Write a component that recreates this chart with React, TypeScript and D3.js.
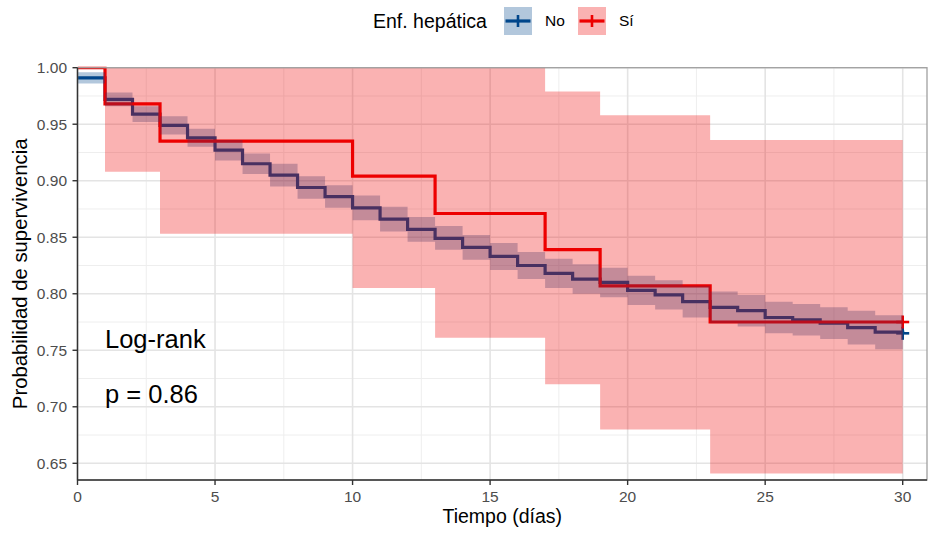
import React from "react";
import * as d3 from "d3";

// ---- Data ----
const noTimes = [0,1,2,3,4,5,6,7,8,9,10,11,12,13,14,15,16,17,18,19,20,21,22,23,24,25,26,27,28,29,30];
const noSurv = [0.991,0.972,0.959,0.949,0.938,0.927,0.915,0.905,0.894,0.886,0.876,0.866,0.857,0.849,0.841,0.833,0.825,0.818,0.813,0.810,0.803,0.799,0.793,0.788,0.785,0.779,0.777,0.774,0.770,0.766,0.765];
const noUpper = [0.996,0.978,0.966,0.957,0.946,0.936,0.924,0.915,0.904,0.896,0.887,0.877,0.868,0.860,0.852,0.845,0.837,0.831,0.826,0.823,0.816,0.812,0.807,0.802,0.799,0.793,0.791,0.788,0.785,0.781,0.781];
const noLower = [0.986,0.966,0.952,0.941,0.930,0.918,0.906,0.895,0.884,0.876,0.865,0.855,0.846,0.839,0.830,0.821,0.813,0.805,0.800,0.797,0.790,0.786,0.779,0.774,0.771,0.765,0.763,0.760,0.755,0.751,0.751];

const siTimes = [0,1,3,10,13,17,19,23,30];
const siSurv = [1.0,0.968,0.935,0.904,0.871,0.839,0.807,0.775,0.775];
const siUpper = [1.0,1.0,1.0,1.0,1.0,0.979,0.958,0.936,0.936];
const siLower = [1.0,0.908,0.853,0.805,0.761,0.720,0.680,0.641,0.641];

const groupLabels = ["No", "Sí"];
const groupColors = ["#00468B", "#ED0000"];
const xTicks = [0,5,10,15,20,25,30];
const xMinor = [2.5,7.5,12.5,17.5,22.5,27.5];
const yTicks = [0.65,0.70,0.75,0.80,0.85,0.90,0.95,1.00];
const yMinor = [0.675,0.725,0.775,0.825,0.875,0.925,0.975];
const legendTitle = "Enf. hepática";
const xTitle = "Tiempo (días)";
const yTitle = "Probabilidad de supervivencia";
const annot1 = "Log-rank";
const annot2 = "p = 0.86";

const FONT = "'Liberation Sans', Arial, Helvetica, sans-serif";

type Pt = { t: number; s: number; u: number; l: number };
const mk = (t: number[], s: number[], u: number[], l: number[]): Pt[] =>
  t.map((tt, i) => ({ t: tt, s: s[i], u: u[i], l: l[i] }));

const groups = [
  mk(noTimes, noSurv, noUpper, noLower),
  mk(siTimes, siSurv, siUpper, siLower),
];

export default function App() {
  const W = 932, H = 535;
  const panel = { left: 77.5, right: 927, top: 67.7, bottom: 480 };
  const x = d3.scaleLinear().domain([0, 30]).range([77.5, 902.7]);
  const y = d3.scaleLinear().domain([0.65, 1.0]).range([463.3, 67.7]);

  const line = d3.line<Pt>().x(d => x(d.t)).y(d => y(d.s)).curve(d3.curveStepAfter);
  const area = d3.area<Pt>().x(d => x(d.t)).y0(d => y(d.l)).y1(d => y(d.u)).curve(d3.curveStepAfter);
  const fmt = d3.format(".2f");

  return (
    <svg width={W} height={H} style={{ position: "absolute", left: 0, top: 0, background: "#fff" }} fontFamily={FONT}>
      <defs>
        <clipPath id="pc">
          <rect x={panel.left} y={panel.top - 1} width={panel.right - panel.left} height={panel.bottom - panel.top + 1} />
        </clipPath>
      </defs>
      {/* grid */}
      {yMinor.map(v => (
        <line key={"ym" + v} x1={panel.left} x2={panel.right} y1={y(v)} y2={y(v)} stroke="#EEEEEE" strokeWidth={1} />
      ))}
      {xMinor.map(v => (
        <line key={"xm" + v} y1={panel.top} y2={panel.bottom} x1={x(v)} x2={x(v)} stroke="#EEEEEE" strokeWidth={1} />
      ))}
      {yTicks.map(v => (
        <line key={"yg" + v} x1={panel.left} x2={panel.right} y1={y(v)} y2={y(v)} stroke="#E4E4E4" strokeWidth={1.6} />
      ))}
      {xTicks.map(v => (
        <line key={"xg" + v} y1={panel.top} y2={panel.bottom} x1={x(v)} x2={x(v)} stroke="#E4E4E4" strokeWidth={1.6} />
      ))}
      <g clipPath="url(#pc)">
        {/* lines */}
        {groups.map((g, i) => (
          <path key={"l" + i} d={line(g) || ""} fill="none" stroke={groupColors[i]} strokeWidth={3.2} />
        ))}
        {/* censor marks */}
        {groups.map((g, i) => {
          const last = g[g.length - 1];
          const cx = x(last.t), cy = y(last.s);
          return (
            <g key={"c" + i} stroke={groupColors[i]} strokeWidth={2.6}>
              <line x1={cx - 6.5} x2={cx + 6.5} y1={cy} y2={cy} />
              <line x1={cx} x2={cx} y1={cy - 6.5} y2={cy + 6.5} />
            </g>
          );
        })}
        {/* ribbons */}
        {groups.map((g, i) => (
          <path key={"a" + i} d={area(g) || ""} fill={groupColors[i]} fillOpacity={0.3} stroke="none" />
        ))}
      </g>
      {/* panel border */}
      <rect x={panel.left} y={panel.top} width={panel.right - panel.left} height={panel.bottom - panel.top} fill="none" stroke="#A0A0A0" strokeWidth={1.3} />
      {/* axis lines */}
      <line x1={panel.left} x2={panel.left} y1={panel.top} y2={panel.bottom} stroke="#333" strokeWidth={1.4} />
      <line x1={panel.left} x2={panel.right} y1={panel.bottom} y2={panel.bottom} stroke="#333" strokeWidth={1.4} />
      {/* y ticks */}
      {yTicks.map(v => (
        <g key={"yt" + v}>
          <line x1={panel.left - 5} x2={panel.left} y1={y(v)} y2={y(v)} stroke="#333" strokeWidth={1.4} />
          <text x={67} y={y(v)} dy="0.36em" textAnchor="end" fontSize={15.5} fill="#4D4D4D">{fmt(v)}</text>
        </g>
      ))}
      {/* x ticks */}
      {xTicks.map(v => (
        <g key={"xt" + v}>
          <line x1={x(v)} x2={x(v)} y1={panel.bottom} y2={panel.bottom + 5} stroke="#333" strokeWidth={1.4} />
          <text x={x(v)} y={501.7} textAnchor="middle" fontSize={15.5} fill="#4D4D4D">{v}</text>
        </g>
      ))}
      {/* axis titles */}
      <text x={(panel.left + panel.right) / 2} y={523.3} textAnchor="middle" fontSize={19.5} fill="#000">{xTitle}</text>
      <text transform={`translate(26.7,${(panel.top + panel.bottom) / 2}) rotate(-90)`} textAnchor="middle" fontSize={20.3} fill="#000">{yTitle}</text>
      {/* annotation */}
      <text x={105} y={347.7} fontSize={25.5} fill="#000">{annot1}</text>
      <text x={105} y={403.3} fontSize={25.5} fill="#000">{annot2}</text>
      {/* legend */}
      <text x={373} y={27.5} fontSize={19.5} fill="#000">{legendTitle}</text>
      {groupLabels.map((lab, i) => {
        const bx = [504, 578][i];
        const by = 7;
        const s = 28;
        return (
          <g key={"lg" + i}>
            <rect x={bx} y={by} width={s} height={s} fill={groupColors[i]} fillOpacity={0.3} />
            <line x1={bx + 1.5} x2={bx + s - 1.5} y1={by + s / 2} y2={by + s / 2} stroke={groupColors[i]} strokeWidth={3.2} />
            <line x1={bx + s / 2} x2={bx + s / 2} y1={by + s / 2 - 6} y2={by + s / 2 + 6} stroke={groupColors[i]} strokeWidth={2.6} />
            <text x={bx + s + 13} y={26} fontSize={15.5} fill="#000">{lab}</text>
          </g>
        );
      })}
    </svg>
  );
}
